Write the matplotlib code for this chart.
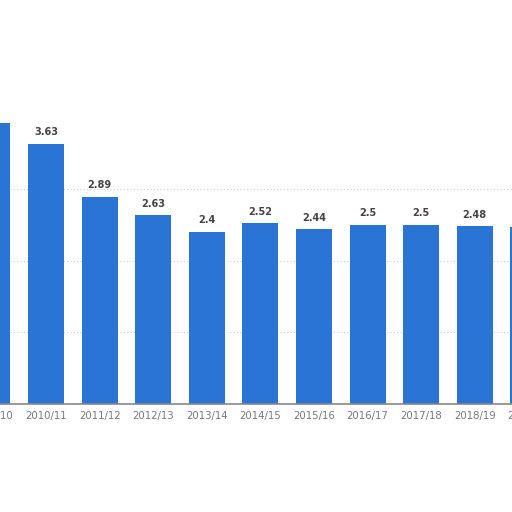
import matplotlib.pyplot as plt
import matplotlib.transforms as mtransforms

seasons = ["2009/10", "2010/11", "2011/12", "2012/13", "2013/14", "2014/15",
           "2015/16", "2016/17", "2017/18", "2018/19", "2019/20"]
values = [3.92, 3.63, 2.89, 2.63, 2.4, 2.52, 2.44, 2.5, 2.5, 2.48, 2.47]
shown = [False, True, True, True, True, True, True, True, True, True, False]

fig = plt.figure(figsize=(5.12, 5.12), dpi=100)
ax = fig.add_axes([0, 108 / 512, 1, 404 / 512])

x = list(range(len(seasons)))
ax.bar(x, values, width=0.67, color="#2a74d6", zorder=3)

for i, v in enumerate(values):
    if shown[i]:
        ax.text(i, v + 0.09, str(v), ha="center", va="bottom", fontsize=7,
                fontweight="bold", color="#444444")

# category labels as plain text so the ones cut by the crop still show
trans = mtransforms.blended_transform_factory(ax.transData, ax.transAxes)
for i, s in enumerate(seasons):
    ax.text(i, -0.018, s, transform=trans, ha="center", va="top",
            fontsize=7.3, color="#777777", clip_on=False)

ax.set_xticks([])
ax.set_yticks([1, 2, 3])
ax.set_xlim(0.142, 9.694)
ax.set_ylim(0, 5.635)
ax.yaxis.grid(True, linestyle=(0, (1, 2)), color="#cccccc", linewidth=0.8, zorder=0)
ax.tick_params(axis="y", left=False, labelleft=False)
for side in ["top", "left", "right"]:
    ax.spines[side].set_visible(False)
ax.spines["bottom"].set_color("#888888")
ax.spines["bottom"].set_linewidth(1.2)
ax.spines["bottom"].set_zorder(4)

fig.savefig("out.png", dpi=100)
